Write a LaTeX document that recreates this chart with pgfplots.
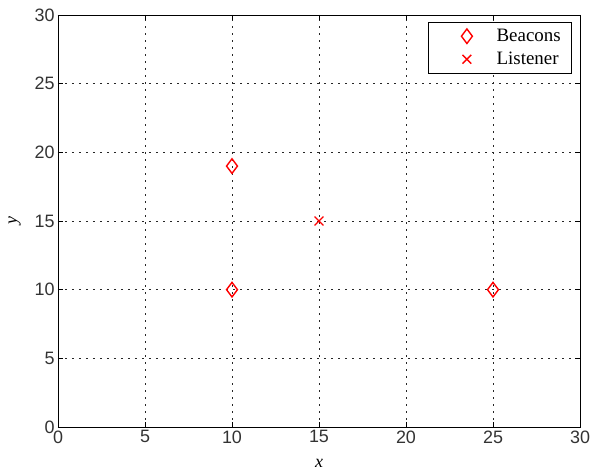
\documentclass[border=0pt]{standalone}
\usepackage{fontspec}
\setmainfont{Liberation Serif}
\setsansfont{Liberation Sans}
\usepackage{pgfplots}
\pgfplotsset{compat=1.18}
\pgfplotsset{my legend/.style={legend image code/.code={\path (0,0) (62bp,0); \draw[##1] plot coordinates {(35bp,0)};}}}
\begin{document}
\begin{tikzpicture}
\begin{axis}[
  scale only axis,
  width=522bp, height=412bp,
  xmin=0, xmax=30, ymin=0, ymax=30,
  xtick={0,5,...,30}, ytick={0,5,...,30},
  tick align=inside,
  major tick length=5bp,
  xmajorgrids, ymajorgrids,
  grid style={black!85, line width=0.7pt, dash pattern=on 1.6bp off 5.4bp},
  axis line style={black, line width=0.6pt},
  tick style={black, line width=0.6pt},
  /pgf/number format/assume math mode=true,
  ticklabel style={font=\sffamily\fontsize{18}{20}\selectfont, text=black!80},
  xlabel={\textit{x}}, ylabel={\textit{y}},
  label style={font=\fontsize{18}{20}\selectfont},
  xlabel style={yshift=-9bp},
  ylabel style={yshift=7bp},
  legend style={at={(0.9847,0.983)}, anchor=north east, font=\fontsize{19}{21}\selectfont,
    draw=black, line width=0.6pt, row sep=5bp, inner xsep=3bp, inner ysep=5bp},
  legend cell align=left,
]
\addplot[only marks, red, mark=diamond, mark size=7.3bp, line width=1.4pt, my legend] coordinates {(10,19) (10,10) (25,10)};
\addlegendentry{Beacons\rule{6bp}{0pt}}
\addplot[only marks, red, mark=x, mark size=6.2bp, line width=1.4pt, my legend] coordinates {(15,15)};
\addlegendentry{Listener\rule{6bp}{0pt}}
\end{axis}
\pgfresetboundingbox
\path ([shift={(-58bp,-47bp)}]current axis.south west) rectangle ([shift={(12bp,15bp)}]current axis.north east);
\end{tikzpicture}
\end{document}
